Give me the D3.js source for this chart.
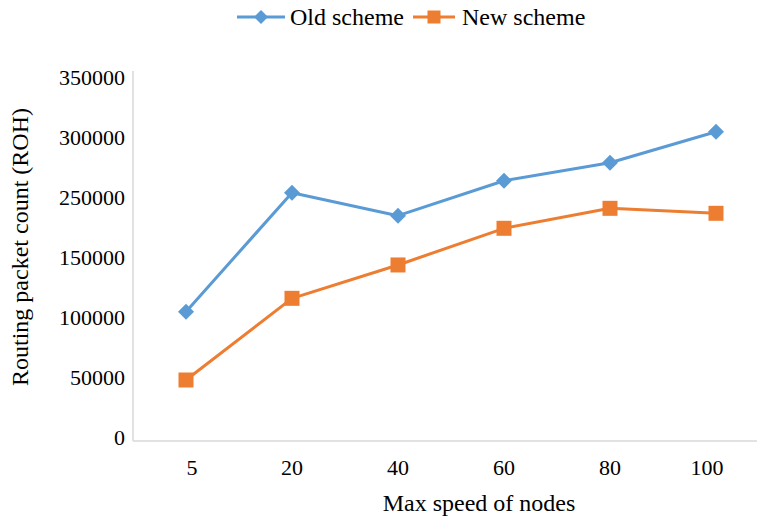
<!DOCTYPE html>
<html>
<head>
<meta charset="utf-8">
<script src="https://cdn.jsdelivr.net/npm/d3@7"></script>
<style>
  html, body { margin: 0; padding: 0; background: #fff; }
  svg { display: block; }
  text { font-family: "Liberation Serif", "Times New Roman", serif; fill: #000; }
</style>
</head>
<body>
<svg id="chart" width="757" height="519"></svg>
<script>
const categories = ["5", "20", "40", "60", "80", "100"];
const oldScheme = [107750, 206900, 187750, 216900, 231900, 257750];
const newScheme = [50830, 118900, 146700, 177250, 193900, 189750];
const yTickValues = [0, 50000, 100000, 150000, 200000, 250000, 300000];
const yTickLabels = ["0", "50000", "100000", "150000", "250000", "300000", "350000"];
const seriesNames = ["Old scheme", "New scheme"];
const colors = ["#5B9BD5", "#ED7D31"];

const svg = d3.select("#chart");
const tickFont = 22;
const titleFont = 24;

const x = d3.scaleBand().domain(categories).range([133, 769]).padding(0);
const y = d3.scaleLinear().domain([0, 300000]).range([441, 81]);
const cx = c => x(c) + x.bandwidth() / 2;

// axes lines
svg.append("line").attr("x1", 133).attr("x2", 769).attr("y1", y(0)).attr("y2", y(0))
  .attr("stroke", "#D9D9D9").attr("stroke-width", 1.5);
svg.append("line").attr("x1", 133).attr("x2", 133).attr("y1", 71).attr("y2", y(0))
  .attr("stroke", "#D9D9D9").attr("stroke-width", 1.5);

// y tick labels
svg.append("g").selectAll("text").data(yTickValues).join("text")
  .attr("x", 125).attr("y", d => y(d) - 4)
  .attr("text-anchor", "end").attr("dominant-baseline", "central")
  .attr("font-size", tickFont)
  .text((d, i) => yTickLabels[i]);

// x tick labels
svg.append("g").selectAll("text").data(categories).join("text")
  .attr("x", (d, i) => cx(d) + (i === 0 ? 6 : 0) - (i === categories.length - 1 ? 9 : 0))
  .attr("y", 475)
  .attr("text-anchor", "middle")
  .attr("font-size", tickFont)
  .text(d => d);

// axis titles
svg.append("text").attr("x", 479).attr("y", 511).attr("text-anchor", "middle")
  .attr("font-size", titleFont).text("Max speed of nodes");
svg.append("text").attr("transform", "translate(28,247) rotate(-90)")
  .attr("text-anchor", "middle").attr("font-size", titleFont)
  .text("Routing packet count (ROH)");

const line = d3.line().x((d, i) => cx(categories[i])).y(d => y(d));
const allSeries = [oldScheme, newScheme];

allSeries.forEach((s, k) => {
  svg.append("path").datum(s).attr("d", line)
    .attr("fill", "none").attr("stroke", colors[k]).attr("stroke-width", 3)
    .attr("stroke-linejoin", "round");
});

function diamond(g, px, py, r, col) {
  g.append("path")
    .attr("d", `M${px},${py - r}L${px + r},${py}L${px},${py + r}L${px - r},${py}Z`)
    .attr("fill", col);
}
function square(g, px, py, r, col) {
  g.append("rect").attr("x", px - r).attr("y", py - r)
    .attr("width", 2 * r).attr("height", 2 * r).attr("fill", col);
}

const mk = svg.append("g");
oldScheme.forEach((v, i) => diamond(mk, cx(categories[i]), y(v), 8, colors[0]));
newScheme.forEach((v, i) => square(mk, cx(categories[i]), y(v), 7.5, colors[1]));

// legend
const lg = svg.append("g");
const legendY = 17;
lg.append("line").attr("x1", 237).attr("x2", 285).attr("y1", legendY).attr("y2", legendY)
  .attr("stroke", colors[0]).attr("stroke-width", 3);
diamond(lg, 261, legendY, 7, colors[0]);
lg.append("text").attr("x", 290).attr("y", legendY).attr("dominant-baseline", "central")
  .attr("font-size", titleFont).text(seriesNames[0]);
lg.append("line").attr("x1", 413).attr("x2", 455).attr("y1", legendY).attr("y2", legendY)
  .attr("stroke", colors[1]).attr("stroke-width", 3);
square(lg, 434, legendY, 6.5, colors[1]);
lg.append("text").attr("x", 462).attr("y", legendY).attr("dominant-baseline", "central")
  .attr("font-size", titleFont).text(seriesNames[1]);
</script>
</body>
</html>
